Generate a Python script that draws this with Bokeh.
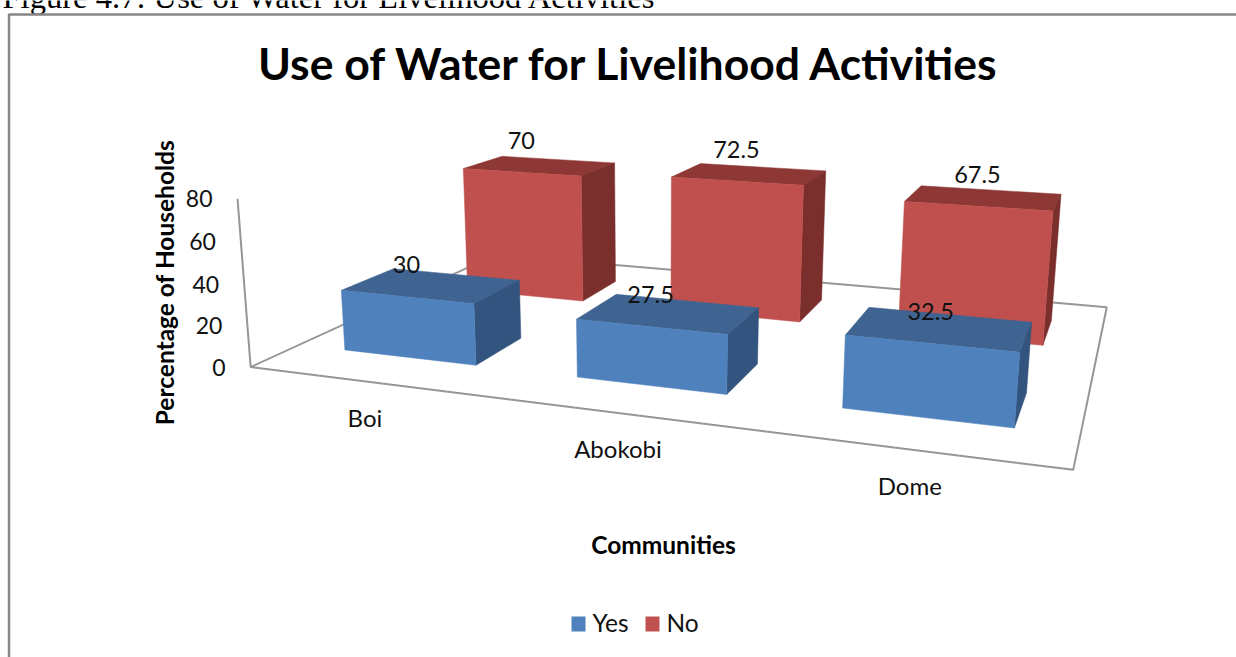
import numpy as np
from bokeh.plotting import figure
from bokeh.embed import file_html
from bokeh.resources import INLINE
from bokeh.models import Range1d
from bokeh.core.properties import value

caption = "Figure 4.7: Use of Water for Livelihood Activities"
title = "Use of Water for Livelihood Activities"
y_title = "Percentage of Households"
x_title = "Communities"
communities = ["Boi", "Abokobi", "Dome"]
yes_share = [30, 27.5, 32.5]
no_share = [70, 72.5, 67.5]
y_ticks = [0, 20, 40, 60, 80]

# Camera of the 3-D chart: (category position, depth row, value) -> page pixels
CAMERA = np.array([
    [205.056477, 211.53706, -0.25771, 250.159944],
    [4.015706, -10.71657, -2.182532, 366.551693],
    [-0.064443, 0.178981, -0.000395, 1.0],
])
GAP_U, GAP_V = 0.21, 0.31
Y_MAX = y_ticks[-1]
FONT = value("Lato")
TEXT = "#111111"


def project(u, v, z):
    h = CAMERA @ np.array([u, v, z, 1.0])
    return h[0] / h[2], h[1] / h[2]


def face(points):
    xy = [project(*pt) for pt in points]
    return [a for a, _ in xy], [b for _, b in xy]


p = figure(width=1236, height=657, output_backend="svg", toolbar_location=None,
           x_range=Range1d(0, 1236), y_range=Range1d(657, 0), min_border=0,
           background_fill_color="white", border_fill_color="white", outline_line_color=None)
p.xaxis.visible = False
p.yaxis.visible = False
p.grid.visible = False

# Page caption and chart frame
p.text([2], [7], text=[caption], text_font=value("Liberation Serif"), text_font_size="32.6px",
       text_color="#000000", text_baseline="alphabetic", y_offset=-11)
p.line([1236, 8.5, 8.5], [14, 14, 657], line_color="#868686", line_width=2.5)

# Floor outline and vertical axis
floor = [(0, 0, Y_MAX), (0, 0, 0), (3, 0, 0), (3, 2, 0), (0, 2, 0), (0, 0, 0)]
fx, fy = face(floor)
p.line(fx, fy, line_color="#969696", line_width=2)

# Bars: the back row first so the front row paints over it
series = [(no_share, 1, "#C0504D", "#8E3835", "#7A2F2D"),
          (yes_share, 0, "#4F81BD", "#3F6491", "#33547E")]
for values, row, front, top, side in series:
    for i, val in enumerate(values):
        u0, u1 = i + GAP_U, i + 1 - GAP_U
        v0, v1 = row + GAP_V, row + 1 - GAP_V
        faces = [
            ([(u0, v0, val), (u1, v0, val), (u1, v1, val), (u0, v1, val)], top),
            ([(u1, v0, 0), (u1, v1, 0), (u1, v1, val), (u1, v0, val)], side),
            ([(u0, v0, 0), (u1, v0, 0), (u1, v0, val), (u0, v0, val)], front),
        ]
        for pts, colour in faces:
            x, y = face(pts)
            p.patch(x, y, fill_color=colour, line_color=colour, line_width=0.5)

# Value labels sit above the front top edge of each bar
for values, row, *_ in series:
    for i, val in enumerate(values):
        x, y = project(i + 0.5, row + GAP_V, val)
        p.text([x], [y], text=[f"{val:g}"], text_font=FONT, text_font_size="23.5px",
               text_color=TEXT, text_align="center", text_baseline="middle", y_offset=-32)

# Value-axis tick labels follow the tilted axis
for t in y_ticks:
    x, y = project(0, 0, t)
    p.text([x], [y], text=[str(t)], text_font=FONT, text_font_size="23px", text_color=TEXT,
           text_align="right", text_baseline="middle", x_offset=-25, y_offset=0)

# Category labels below the front edge of the floor
for i, name in enumerate(communities):
    x, y = project(i + 0.5, 0, 0)
    p.text([x], [y], text=[name], text_font=FONT, text_font_size="24px", text_color=TEXT,
           text_align="center", text_baseline="middle", y_offset=36)

# Titles
p.text([629], [62], text=[title], text_font=FONT, text_font_style="bold", text_font_size="44.5px",
       text_color="#000000", text_align="center", text_baseline="middle")
p.text([164], [282], text=[y_title], text_font=FONT, text_font_style="bold", text_font_size="24.5px",
       text_color="#000000", text_align="center", text_baseline="middle", angle=np.pi / 2)
p.text([663], [544], text=[x_title], text_font=FONT, text_font_style="bold", text_font_size="24.5px",
       text_color="#000000", text_align="center", text_baseline="middle")

# Legend
legend = [("Yes", "#4F81BD", 571), ("No", "#C0504D", 645)]
for name, colour, left in legend:
    p.quad(left=[left], right=[left + 14], top=[616], bottom=[631], fill_color=colour, line_color=None)
    p.text([left + 21], [622], text=[name], text_font=FONT, text_font_size="24.5px", text_color=TEXT,
           text_baseline="middle")

open("out.html", "w").write(file_html(p, INLINE))
